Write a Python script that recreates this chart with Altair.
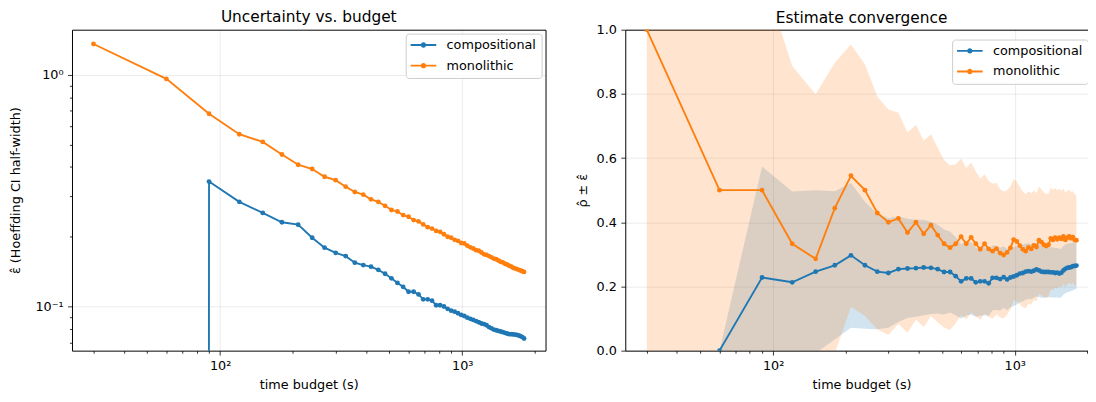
import altair as alt
import pandas as pd

budget = [30, 60, 90, 120, 150, 180, 210, 240, 270, 300, 330, 360, 390, 420, 450,
          480, 510, 540, 570, 600, 630, 660, 690, 720, 750, 780, 810, 840, 870, 900,
          930, 960, 990, 1020, 1050, 1080, 1110, 1140, 1170, 1200, 1230, 1260, 1290,
          1320, 1350, 1380, 1410, 1440, 1470, 1500, 1530, 1560, 1590, 1620, 1650,
          1680, 1710, 1740, 1770, 1800]

comp_eps = [None, 0.0, 0.346, 0.283, 0.2535, 0.231, 0.2255, 0.198, 0.1795, 0.1705,
            0.165, 0.1546, 0.151, 0.1486, 0.144, 0.1385, 0.1323, 0.1264, 0.1216, 0.1158,
            0.1158, 0.1128, 0.1074, 0.1074, 0.106, 0.1013, 0.1013, 0.100, 0.0977, 0.096,
            0.095, 0.0935, 0.092, 0.091, 0.0895, 0.0885, 0.0875, 0.0865, 0.0855, 0.0845,
            0.084, 0.083, 0.0815, 0.0805, 0.0795, 0.079, 0.0785, 0.078, 0.0775, 0.077,
            0.0765, 0.076, 0.076, 0.0758, 0.0757, 0.0755, 0.075, 0.0745, 0.0738, 0.0728]

mono_eps = [1.358, 0.960, 0.679, 0.554, 0.513, 0.453, 0.409, 0.392, 0.363, 0.351,
            0.329, 0.312, 0.304, 0.290, 0.283, 0.272, 0.261, 0.257, 0.248, 0.244,
            0.236, 0.233, 0.226, 0.220, 0.217, 0.212, 0.210, 0.205, 0.200, 0.198,
            0.194, 0.192, 0.188, 0.187, 0.183, 0.180, 0.178, 0.175, 0.174, 0.171,
            0.168, 0.167, 0.165, 0.163, 0.161, 0.160, 0.158, 0.156, 0.155, 0.153,
            0.152, 0.150, 0.149, 0.147, 0.146, 0.145, 0.144, 0.143, 0.142, 0.141]

comp_rho = [None, 0.0, 0.228, 0.213, 0.246, 0.266, 0.297, 0.266, 0.246, 0.242,
            0.254, 0.256, 0.257, 0.259, 0.258, 0.254, 0.245, 0.245, 0.232, 0.216,
            0.225, 0.225, 0.213, 0.216, 0.216, 0.210, 0.227, 0.227, 0.223, 0.229,
            0.222, 0.228, 0.231, 0.235, 0.240, 0.242, 0.246, 0.248, 0.246, 0.249,
            0.253, 0.250, 0.246, 0.245, 0.245, 0.245, 0.244, 0.244, 0.242, 0.243,
            0.240, 0.243, 0.250, 0.255, 0.258, 0.259, 0.260, 0.263, 0.264, 0.265]

mono_rho = [1.0, 0.5, 0.5, 0.333, 0.286, 0.444, 0.545, 0.5, 0.429, 0.4,
            0.412, 0.368, 0.4, 0.364, 0.391, 0.36, 0.333, 0.321, 0.333, 0.355,
            0.333, 0.353, 0.333, 0.316, 0.333, 0.317, 0.31, 0.318, 0.304, 0.298,
            0.306, 0.32, 0.346, 0.34, 0.327, 0.316, 0.31, 0.322, 0.317, 0.328,
            0.323, 0.344, 0.338, 0.33, 0.326, 0.33, 0.35, 0.345, 0.352, 0.347,
            0.352, 0.348, 0.356, 0.345, 0.352, 0.356, 0.35, 0.354, 0.345, 0.344]

series_names = ["compositional", "monolithic"]
series_colors = ["#1f77b4", "#ff7f0e"]

x_ticks = [30, 40, 50, 60, 70, 80, 90, 100, 200, 300, 400, 500, 600, 700, 800, 900, 1000, 2000]
ly_ticks = [0.07, 0.08, 0.09, 0.1, 0.2, 0.3, 0.4, 0.5, 0.6, 0.7, 0.8, 0.9, 1.0]
ry_ticks = [0.0, 0.2, 0.4, 0.6, 0.8, 1.0]

rows = []
for i, t in enumerate(budget):
    rows.append({"budget": t, "series": series_names[0], "eps": comp_eps[i], "rho": comp_rho[i]})
for i, t in enumerate(budget):
    rows.append({"budget": t, "series": series_names[1], "eps": mono_eps[i], "rho": mono_rho[i]})
df = pd.DataFrame(rows)

FONT = "DejaVu Sans"

color_scale = alt.Scale(domain=series_names, range=series_colors)
# line-with-marker legend glyph (26px long line, ~5px dot)
legend_path = ("M-2,-0.15H2V0.15H-2Z "
               "M-0.42,0A0.42,0.42,0,1,1,0.42,0A0.42,0.42,0,1,1,-0.42,0Z")


def make_legend(offset):
    return alt.Legend(title=None, orient="top-right", symbolType=legend_path,
                      symbolSize=169, symbolStrokeWidth=0, symbolOpacity=1,
                      symbolOffset=6.5, labelFontSize=13, labelFont=FONT,
                      labelColor="#000000", labelOffset=17, strokeColor="#cccccc",
                      fillColor="rgba(255,255,255,0.8)", padding=5, cornerRadius=3,
                      offset=offset, rowPadding=7)


def major_test(vals):
    return " || ".join(f"abs(datum.value - {v}) < 1e-9" for v in vals)


def tick_size(vals):
    return {"condition": {"test": major_test(vals), "value": 4.5}, "value": 2.6}


def grid_op(vals):
    return {"condition": {"test": major_test(vals), "value": 0.1}, "value": 0}


x_scale = alt.Scale(type="log", domain=[24.45, 2208], nice=False)
x_axis = alt.Axis(values=x_ticks, title="time budget (s)",
                  labelExpr="datum.value == 100 ? '10²' : (datum.value == 1000 ? '10³' : '')",
                  tickSize=tick_size([100, 1000]), gridOpacity=grid_op([100, 1000]),
                  labelOverlap=False, labelFlush=False, titlePadding=6)
x_enc = alt.X("budget:Q", scale=x_scale, axis=x_axis)

stroke_enc = alt.Stroke("series:N", scale=color_scale, legend=None)
fill_enc = alt.Fill("series:N", scale=color_scale, legend=None)

TITLE_OFFSET = 4
PLOT_H = 326

# Left panel: uncertainty
ly_scale = alt.Scale(type="log", domain=[0.0645, 1.565], nice=False)
ly_axis = alt.Axis(values=ly_ticks, title="ε̂ (Hoeffding CI half-width)",
                   labelExpr="abs(datum.value - 1) < 1e-9 ? '10⁰' : (abs(datum.value - 0.1) < 1e-9 ? '10⁻¹' : '')",
                   tickSize=tick_size([0.1, 1]), gridOpacity=grid_op([0.1, 1]),
                   labelOverlap=False, labelFlush=False, titlePadding=13)

left_base = alt.Chart(df).transform_filter("isValid(datum.eps)").transform_calculate(
    eps_plot="datum.eps > 0 ? datum.eps : 1e-300"
)
left_line = left_base.mark_line(strokeWidth=1.9, clip=True).encode(
    x=x_enc,
    y=alt.Y("eps_plot:Q", scale=ly_scale, axis=ly_axis),
    stroke=stroke_enc,
)
left_pts = left_base.mark_circle(size=24, opacity=1, clip=True).encode(
    x=x_enc,
    y=alt.Y("eps_plot:Q", scale=ly_scale, axis=ly_axis),
    color=alt.Color("series:N", scale=color_scale, legend=make_legend(4)),
)
left = alt.layer(left_line, left_pts).properties(
    width=481, height=PLOT_H,
    title=alt.TitleParams("Uncertainty vs. budget", fontSize=15.6, font=FONT,
                          fontWeight="normal", offset=TITLE_OFFSET, color="#000000"),
)

# Right panel: estimate convergence
ry_scale = alt.Scale(domain=[0, 1], nice=False)
ry_axis = alt.Axis(values=ry_ticks, format=".1f", title="ρ̂ ± ε̂",
                   tickSize=4.5, gridOpacity=0.1, labelOverlap=False,
                   labelFlush=False, titlePadding=7)

right_base = alt.Chart(df).transform_filter("isValid(datum.rho)")
band = right_base.transform_calculate(
    lo="datum.rho - datum.eps", hi="datum.rho + datum.eps"
).mark_area(opacity=0.2, clip=True).encode(
    x=x_enc,
    y=alt.Y("lo:Q", scale=ry_scale, axis=ry_axis),
    y2="hi:Q",
    fill=fill_enc,
)
right_line = right_base.mark_line(strokeWidth=1.9, clip=True).encode(
    x=x_enc,
    y=alt.Y("rho:Q", scale=ry_scale, axis=ry_axis),
    stroke=stroke_enc,
)
right_pts = right_base.mark_circle(size=24, opacity=1, clip=True).encode(
    x=x_enc,
    y=alt.Y("rho:Q", scale=ry_scale, axis=ry_axis),
    color=alt.Color("series:N", scale=color_scale, legend=make_legend(10)),
)
right = alt.layer(band, right_line, right_pts).properties(
    width=480, height=PLOT_H,
    title=alt.TitleParams("Estimate convergence", fontSize=15.6, font=FONT,
                          fontWeight="normal", offset=TITLE_OFFSET, dy=6.5,
                          color="#000000"),
)

chart = alt.hconcat(left, right, spacing=29).resolve_legend(
    color="independent"
).properties(
    padding={"top": -2, "left": 0, "right": -11, "bottom": 0}
).configure(font=FONT).configure_view(
    stroke="#000000", strokeWidth=1
).configure_axis(
    labelFont=FONT, titleFont=FONT, labelFontSize=13, titleFontSize=13,
    titleFontWeight="normal", labelColor="#000000", titleColor="#000000",
    tickColor="#000000", tickWidth=0.8, domain=False, gridColor="#000000",
    gridWidth=0.8, labelPadding=4.5
)

chart.save("out.html", embed_options={"renderer": "svg", "actions": False})
